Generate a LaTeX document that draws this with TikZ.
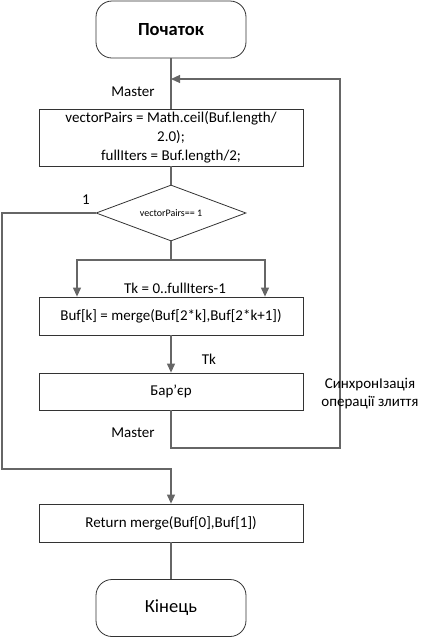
\documentclass[tikz,border=0pt]{standalone}
\usepackage{fontspec}
\setmainfont{Carlito}
\usepackage{tikz}
\usetikzlibrary{arrows.meta, positioning, shapes.geometric}

\begin{document}
\begin{tikzpicture}[x=1pt, y=-1pt,
            term/.style={rectangle,rounded corners=16pt,draw=black!80,thick,minimum width=150pt,minimum height=57pt,font=\fontsize{18.5}{22}\selectfont},
            proc/.style={rectangle,draw=black!80,thick,minimum width=264pt,align=center,inner sep=1pt,font=\fontsize{15}{19}\selectfont},
            cond/.style={diamond,aspect=2.7,draw=black!80,thick,minimum width=150pt,minimum height=56pt,inner sep=0pt,font=\fontsize{10}{12}\selectfont},
            line/.style={draw=black!60,line width=1.1pt},
            arrow/.style={line,-{Triangle[length=9pt,width=8pt]}},
            lbl/.style={font=\fontsize{15}{18}\selectfont}
        ]
            \useasboundingbox (0,0) rectangle (431,638);

            % Nodes
            \node[term] (start) at (171,29.5) {\textbf{Початок}};
            \node[proc,minimum height=57pt] (init) at (171,137.5) {vectorPairs = Math.ceil(Buf.length/\\2.0);\\fullIters = Buf.length/2;};
            \node[cond] (check) at (171,213) {vectorPairs== 1};
            \node[proc,minimum height=38pt] (merge) at (171,316) {Buf[k] = merge(Buf[2*k],Buf[2*k+1])};
            \node[proc,minimum height=37pt] (barrier) at (171,391.5) {Бар’єр};
            \node[proc,minimum height=38pt] (ret) at (171,523) {Return merge(Buf[0],Buf[1])};
            \node[term] (stop) at (171,608) {Кінець};

            % Bends
            \coordinate (join) at (171,79);
            \coordinate (fork) at (171,260);
            \coordinate (forkL) at (77,260);
            \coordinate (forkR) at (265,260);
            \coordinate (loopB) at (340,448);
            \coordinate (loopT) at (340,79);
            \coordinate (leftT) at (2,213);
            \coordinate (leftB) at (2,469);

            % Connections
            \draw[line] (start) -- (init);
            \draw[line] (init) -- (check);
            \draw[line] (check) -- (fork);
            \foreach \s in {forkL,forkR}
                \draw[arrow] (fork) -- (\s) -- (\s |- merge.north);
            \draw[arrow] (merge) -- (barrier);
            \draw[arrow] (barrier.south) |- (loopB) -- (loopT) -- (join);
            \draw[arrow] (check.west) -- (leftT) -- (leftB) -| (ret.north);
            \draw[line] (ret) -- (stop);

            % Labels
            \node[lbl] (m1) at (133,92) {Master};
            \node[lbl] (one) at (86,200) {1};
            \node[lbl] (tk) at (175,288) {Tk = 0..fullIters-1};
            \node[lbl] (tk2) at (209,359) {Tk};
            \node[lbl] (m2) at (133,433) {Master};
            \node[lbl,align=center] (sync) at (370,394) {СинхронІзація\\операції злиття};
        \end{tikzpicture}
\end{document}
